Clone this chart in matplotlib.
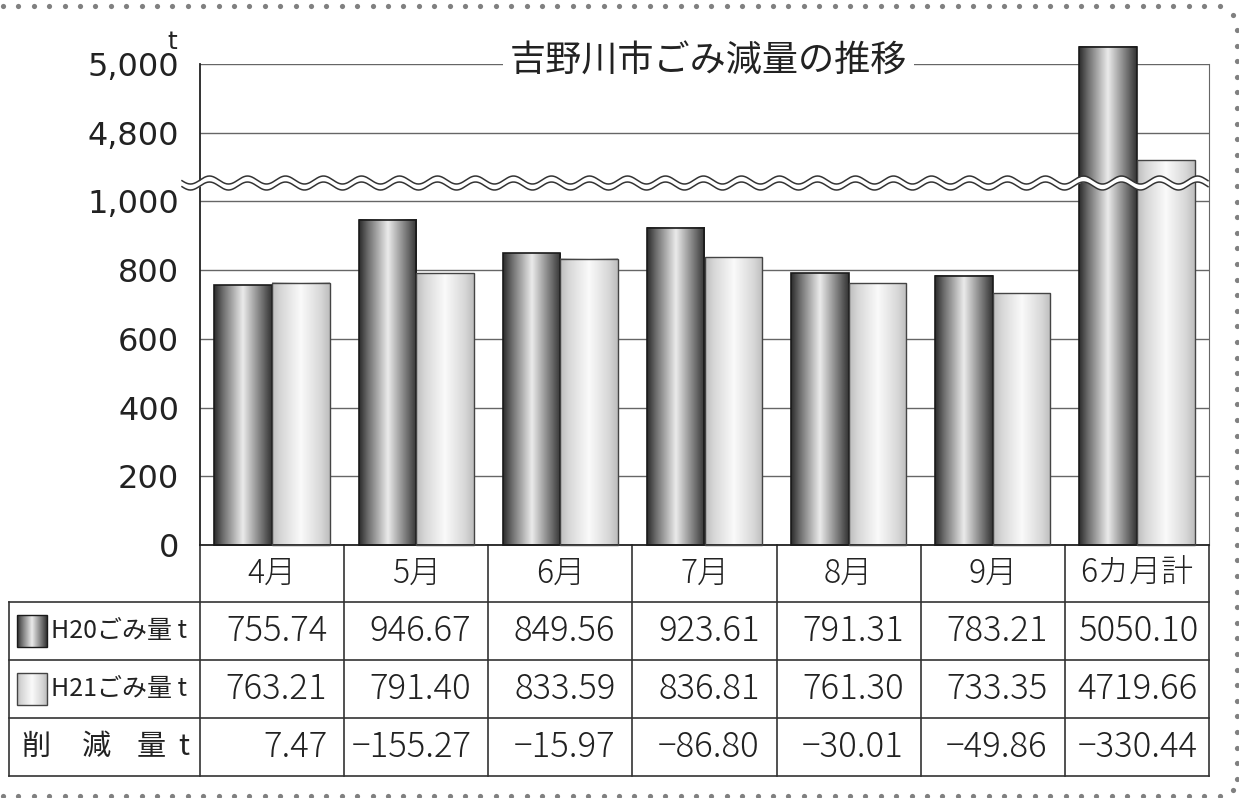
import numpy as np
import matplotlib
matplotlib.use("Agg")
import matplotlib.pyplot as plt
from matplotlib.patches import Rectangle

plt.rcParams['font.family'] = ['Noto Sans CJK JP', 'DejaVu Sans']

# data
months = ["4月", "5月", "6月", "7月", "8月", "9月", "6カ月計"]
h20 = [755.74, 946.67, 849.56, 923.61, 791.31, 783.21, 5050.10]
h21 = [763.21, 791.40, 833.59, 836.81, 761.30, 733.35, 4719.66]
diff = [7.47, -155.27, -15.97, -86.80, -30.01, -49.86, -330.44]
tick_vals = [0, 200, 400, 600, 800, 1000, 4800, 5000]
title = "吉野川市ごみ減量の推移"
row_labels = ["H20ごみ量 t", "H21ごみ量 t"]

# broken axis: everything above the break is shifted down
SHIFT = 3600
BREAK = 1053.6


def disp(v):
    return v if v <= 1100 else v - SHIFT


W, H = 1239, 798
fig = plt.figure(figsize=(W / 100, H / 100), dpi=100)
fig.patch.set_facecolor('white')

# pixel overlay for table + border
bg = fig.add_axes([0, 0, 1, 1], zorder=0)
bg.axis('off')

ax_l, ax_r, ax_t, ax_b = 200, 1209, 64, 545
ax = fig.add_axes([ax_l / W, (H - ax_b) / H, (ax_r - ax_l) / W, (ax_b - ax_t) / H], zorder=2)
ax.patch.set_facecolor('none')

n = len(months)
x = np.arange(n)
bw = 0.4

# gradients for the cylinder look
gpos = [0, 0.15, 0.5, 0.85, 1]
dark_grad = np.interp(np.linspace(0, 1, 200), gpos, [0.17, 0.42, 0.92, 0.42, 0.2])
light_grad = np.interp(np.linspace(0, 1, 200), gpos, [0.74, 0.84, 0.98, 0.84, 0.74])

for i in range(n):
    for off, val, grad in [(-bw, h20[i], dark_grad), (0, h21[i], light_grad)]:
        ax.imshow(grad[None, :], extent=(x[i] + off, x[i] + off + bw, 0, disp(val)), aspect='auto',
                  cmap='gray', vmin=0, vmax=1, interpolation='bilinear', zorder=2, clip_on=False)
ax.bar(x - bw / 2, [disp(v) for v in h20], width=bw, fill=False, edgecolor='#1a1a1a', lw=1.2, zorder=3, clip_on=False)
ax.bar(x + bw / 2, [disp(v) for v in h21], width=bw, fill=False, edgecolor='#444444', lw=1.0, zorder=3, clip_on=False)

ax.set_xlim(-0.5, n - 0.5)
ax.set_ylim(0, disp(5000))
ax.set_xticks([])
ax.set_yticks([disp(v) for v in tick_vals], [f"{v:,}" for v in tick_vals],
              fontfamily='DejaVu Sans')
ax.tick_params(axis='y', length=0, pad=15, labelsize=23, labelcolor='#222222')
ax.set_axisbelow(True)
ax.yaxis.grid(True, color='#666666', lw=1.0)
ax.spines['top'].set_visible(False)
ax.spines['left'].set_color('#222222')
ax.spines['left'].set_linewidth(1.3)
ax.spines['bottom'].set_color('#222222')
ax.spines['bottom'].set_linewidth(1.3)
ax.spines['right'].set_color('#666666')

ax.text(3.03, disp(5000) + 6, title, ha='center', va='center', fontsize=26, color='#222222',
        bbox=dict(facecolor='white', edgecolor='none', pad=5), zorder=5)
ax.text(-0.69, disp(5000) + 30, "t", ha='center', va='bottom', fontsize=18,
        fontfamily='DejaVu Sans', color='#222222')

# wavy break
pxx = (ax_r - ax_l) / n
pxy = (ax_b - ax_t) / disp(5000)
wx = np.linspace(-0.5 - 18 / pxx, n - 0.5 - 1 / pxx, 600)
wave = 4 / pxy * np.sin(2 * np.pi * (wx + 0.5) * pxx / 38)
up = BREAK + 3 / pxy + wave
lo = BREAK - 3 / pxy + wave
ax.fill_between(wx, lo, up, color='white', zorder=6, clip_on=False, lw=0)
ax.plot(wx, up, color='#333333', lw=1.1, zorder=7, clip_on=False)
ax.plot(wx, lo, color='#333333', lw=1.1, zorder=7, clip_on=False)

# table below the chart
tl = 8.7
cw = (ax_r - ax_l) / n
rows = [545, 602, 660, 718, 776]
lc = '#333333'
for xe in [ax_l + cw * k for k in range(n + 1)]:
    bg.plot([xe, xe], [rows[0], rows[-1]], color=lc, lw=1.2)
bg.plot([tl, tl], [rows[1], rows[-1]], color=lc, lw=1.2)
for ye in rows[1:]:
    bg.plot([tl, ax_r], [ye, ye], color=lc, lw=1.2)

tc = '#222222'
for k in range(n):
    bg.text(ax_l + cw * (k + 0.5), (rows[0] + rows[1]) / 2, months[k], ha='center', va='center',
            fontsize=23, fontweight='light', color=tc)
    rpad = 11 if k == n - 1 else 17
    for r, vals in enumerate([h20, h21, diff]):
        s = f"{vals[k]:.2f}".replace('-', '−')
        bg.text(ax_l + cw * (k + 1) - rpad, (rows[r + 1] + rows[r + 2]) / 2, s, ha='right', va='center',
                fontsize=25, fontweight='light', color=tc)

for r, (lab, grad, ec) in enumerate(zip(row_labels, [dark_grad, light_grad], ['#1a1a1a', '#444444'])):
    yc = (rows[r + 1] + rows[r + 2]) / 2
    bg.imshow(grad[None, :], extent=(17, 47, yc + 16, yc - 16), aspect='auto', cmap='gray',
              vmin=0, vmax=1, interpolation='bilinear', zorder=2)
    bg.add_patch(Rectangle((17, yc - 16), 30, 32, fill=False, edgecolor=ec, lw=1.0, zorder=3))
    bg.text(51, yc, lab, ha='left', va='center', fontsize=18, color=tc)

yc = (rows[3] + rows[4]) / 2
for ch, cx in zip(["削", "減", "量", "t"], [36, 96, 151, 184]):
    bg.text(cx, yc, ch, ha='center', va='center', fontsize=21, color=tc)

# dotted border
dc = '#808080'
tx = np.arange(3, 1229, 15.4)
bg.scatter(tx, np.full_like(tx, 6), s=14, color=dc, lw=0, clip_on=False)
bg.scatter(tx, np.full_like(tx, 796), s=14, color=dc, lw=0, clip_on=False)
ry = np.arange(30, 786, 15.6)
bg.scatter(np.full_like(ry, 1237), ry, s=14, color=dc, lw=0, clip_on=False)
bg.scatter([1233, 1233], [15, 790], s=14, color=dc, lw=0, clip_on=False)
bg.set_xlim(0, W)
bg.set_ylim(H, 0)

fig.savefig("out.png", dpi=100)
